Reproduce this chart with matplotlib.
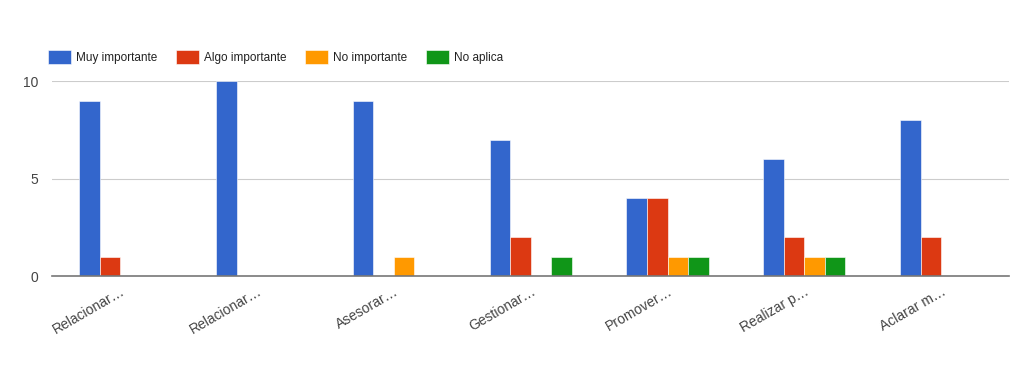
import numpy as np
import matplotlib.pyplot as plt

plt.rcParams['font.family'] = ['Liberation Sans', 'DejaVu Sans']

categories = ['Relacionar…', 'Relacionar…', 'Asesorar…', 'Gestionar…',
              'Promover…', 'Realizar p…', 'Aclarar m…']
series_names = ['Muy importante', 'Algo importante', 'No importante', 'No aplica']
muy = [9, 10, 9, 7, 4, 6, 8]
algo = [1, 0, 0, 2, 4, 2, 2]
no_imp = [0, 0, 1, 0, 1, 1, 0]
no_aplica = [0, 0, 0, 1, 1, 1, 0]
colors = ['#3366cc', '#dc3912', '#ff9900', '#109618']

fig = plt.figure(figsize=(10.24, 3.69), dpi=100)
ax = fig.add_axes([0.0508, 0.252, 0.935, 0.528])

x = np.arange(len(categories))
w = 0.15
for i, (vals, name, c) in enumerate(zip([muy, algo, no_imp, no_aplica], series_names, colors)):
    ax.bar(x + (i - 1.5) * w, vals, w, color=c, label=name,
           edgecolor='white', linewidth=0.4)

ax.set_xlim(-0.5, len(categories) - 0.5)
ax.set_ylim(0, 10)
ax.set_yticks([0, 5, 10])
ax.yaxis.grid(True, color='#cccccc', linewidth=0.8)
ax.set_axisbelow(True)
for s in ['top', 'right', 'left']:
    ax.spines[s].set_visible(False)
ax.spines['bottom'].set_color('#777777')
ax.spines['bottom'].set_linewidth(1.2)
ax.spines['bottom'].set_zorder(5)
ax.tick_params(axis='both', length=0, labelsize=10, colors='#444444')
ax.tick_params(axis='y', pad=10)
ax.set_xticks(x)
ax.set_xticklabels(categories, rotation=30, ha='right', rotation_mode='anchor')
ax.tick_params(axis='x', pad=6)

ax.legend(loc='lower left', bbox_to_anchor=(-0.0095, 1.065), ncol=4, frameon=False,
          fontsize=8.5, handlelength=1.95, handleheight=1.4, columnspacing=1.6,
          handletextpad=0.42, borderaxespad=0, labelcolor='#222222')

fig.savefig('out.png', dpi=100)
